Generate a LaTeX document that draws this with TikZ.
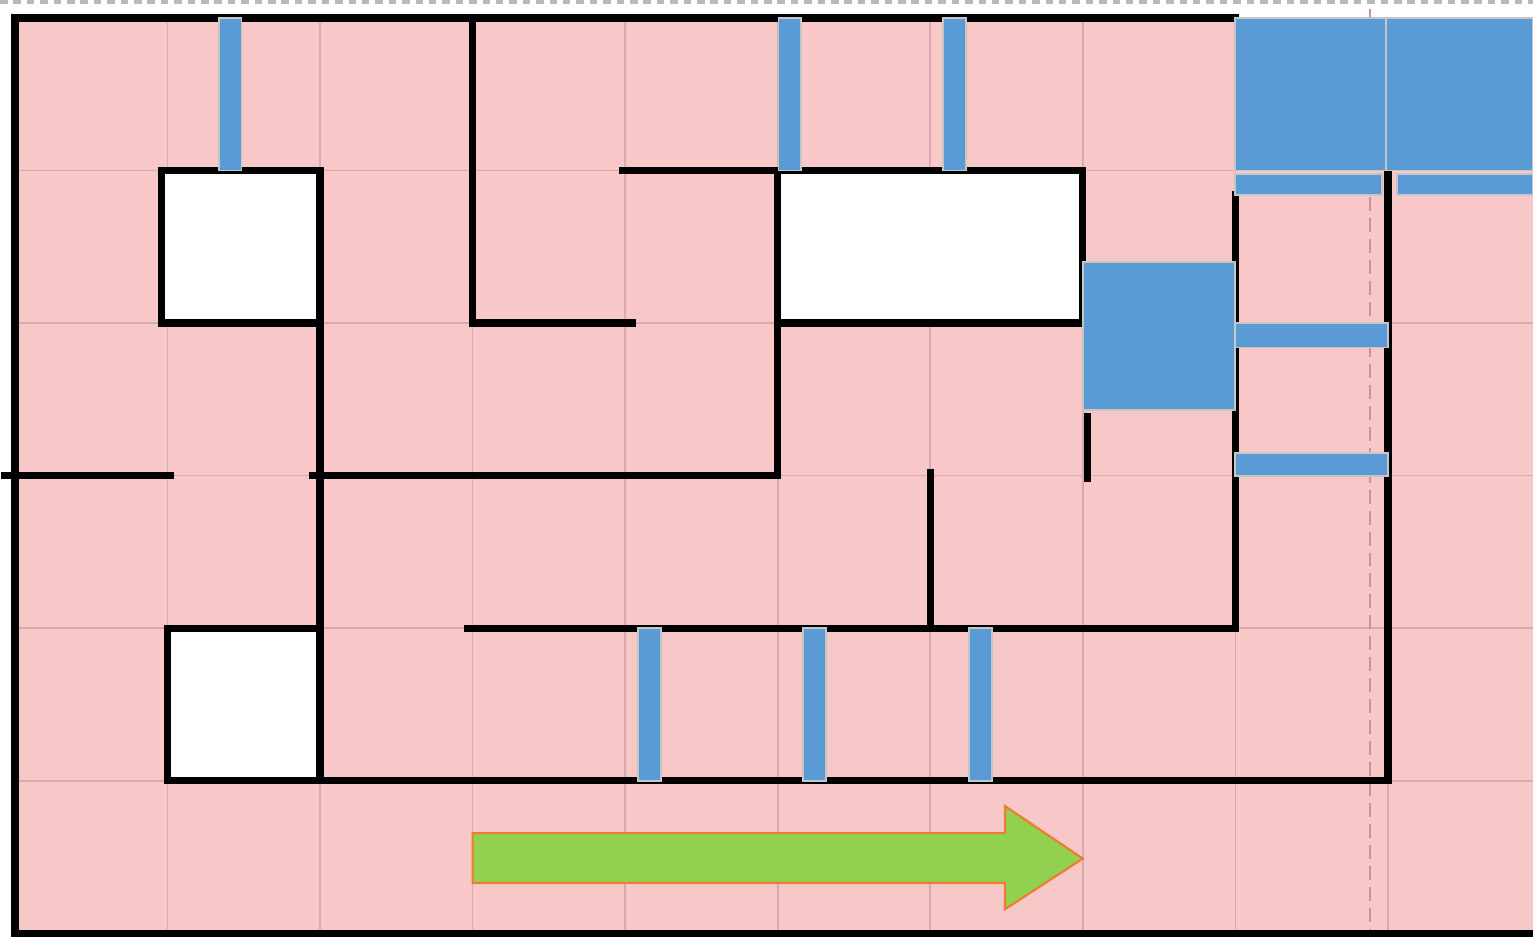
\documentclass[tikz,border=0pt]{standalone}
\usepackage{tikz}
\definecolor{roompink}{RGB}{248,200,201}
\definecolor{gridpink}{RGB}{214,170,175}
\definecolor{guidepink}{RGB}{196,148,154}
\definecolor{doorblue}{RGB}{91,155,213}
\definecolor{arrowgreen}{RGB}{146,208,80}
\definecolor{arroworange}{RGB}{237,125,49}

\begin{document}
\begin{tikzpicture}[x=1cm,y=1cm,
  wall/.style={line width=1.35pt,line cap=rect},
  bluebox/.style={fill=doorblue,draw=gray!45,line width=0.35pt},
  gridline/.style={gridpink,line width=0.3pt}]
\useasboundingbox (-0.098,-0.026) rectangle (9.951,6.118);
\draw[gray!55,line width=0.6pt,dash pattern=on 1.4pt off 1.1pt] (-0.098,6.105)--(9.951,6.105);
% floor and grid
\fill[roompink] (0,0) rectangle (9.951,6);
\draw[gridline] (0,0) grid (9.951,6);
\draw[guidepink,line width=0.35pt,dash pattern=on 2.6pt off 1.3pt] (8.88,6.06)--(8.88,0);
% walls
\draw[wall] (8,6)--(0,6)--(0,0)--(9.951,0);
\draw[wall,fill=white] (0.96,4) rectangle (2,5);
\draw[wall,fill=white] (1,1) rectangle (2,2);
\draw[wall,fill=white] (5,4) rectangle (7,5);
\draw[wall] (2,5)--(2,1);
\draw[wall] (-0.07,3)--(1.02,3);
\draw[wall] (1.95,3)--(5,3)--(5,5)--(3.98,5);
\draw[wall] (3,6)--(3,4)--(4.05,4);
\draw[wall] (7.03,3.39)--(7.03,2.98);
\draw[wall] (6,3.02)--(6,2);
\draw[wall] (2.97,2)--(8,2)--(8,4.84);
\draw[wall] (1,1)--(9,1)--(9,4.99);
% doors
\foreach \x in {1.41,5.08,6.16}
  \draw[bluebox] ({\x-0.075},5) rectangle ({\x+0.075},6);
\foreach \x in {4.16,5.24,6.33}
  \draw[bluebox] ({\x-0.075},1) rectangle ({\x+0.075},2);
\draw[bluebox] (7,3.43) rectangle (8,4.40);
\draw[bluebox] (8,5) rectangle (8.99,6);
\draw[bluebox] (8.99,5) rectangle (9.951,6);
\draw[bluebox] (8,4.84) rectangle (8.96,4.98);
\draw[bluebox] (9.06,4.84) rectangle (9.951,4.98);
\draw[bluebox] (8,3.84) rectangle (9,4);
\draw[bluebox] (8,3) rectangle (9,3.15);
% direction
\draw[fill=arrowgreen,draw=arroworange,line width=0.4pt] (3,0.33)--(6.49,0.33)--(6.49,0.158)
  --(7,0.49)--(6.49,0.834)--(6.49,0.657)--(3,0.657)--cycle;
\end{tikzpicture}
\end{document}
